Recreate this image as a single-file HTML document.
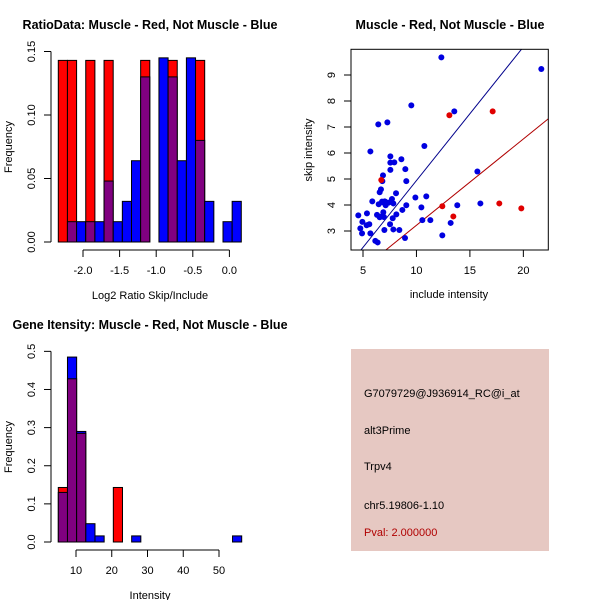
<!DOCTYPE html>
<html><head><meta charset="utf-8"><style>
body{margin:0;background:#fff}
svg{display:block;font-family:"Liberation Sans",sans-serif}
</style></head><body>
<svg id="s" width="600" height="600" viewBox="0 0 600 600">
<rect width="600" height="600" fill="#fff"/>
</svg>
<script>
// ---- Ratio histogram data ----
const ratioStart = -2.3375, ratioWidth = 0.125;
const ratioRed  = [0.143,0.143,0,0.143,0,0.143,0,0,0,0.143,0,0,0.143,0,0,0.143,0,0,0,0];
const ratioBlue = [0,0.016,0.016,0.016,0.016,0.048,0.016,0.032,0.064,0.130,0,0.145,0.130,0.064,0.145,0.080,0.032,0,0.016,0.032];
const ratioXTicks = [-2.0,-1.5,-1.0,-0.5,0.0];
const ratioXLabels = ["-2.0","-1.5","-1.0","-0.5","0.0"];
const ratioYTicks = [0,0.05,0.10,0.15];
const ratioYLabels = ["0.00","0.05","0.10","0.15"];
// ---- Gene intensity histogram data ----
const geneStart = 5.05, geneWidth = 2.565;
const geneRed  = [0.143,0.428,0.285,0,0,0,0.143,0,0,0,0,0,0,0,0,0,0,0,0,0];
const geneBlue = [0.130,0.485,0.290,0.048,0.016,0,0,0,0.016,0,0,0,0,0,0,0,0,0,0,0.016];
const geneXTicks = [10,20,30,40,50];
const geneYTicks = [0,0.1,0.2,0.3,0.4,0.5];
const geneYLabels = ["0.0","0.1","0.2","0.3","0.4","0.5"];
// ---- Scatter data ----
const blueX = [4.56,4.75,4.94,4.91,5.37,5.59,5.34,5.69,5.87,5.69,6.15,6.37,6.43,6.47,6.56,6.62,6.68,6.78,6.81,6.87,6.90,6.93,7.03,7.09,7.12,6.90,7.00,7.28,7.53,7.56,7.56,7.56,7.71,7.78,7.84,7.84,7.93,8.09,8.12,8.40,8.68,8.59,8.96,9.05,9.05,8.93,9.52,9.90,10.46,10.55,10.74,10.92,11.30,12.33,12.42,13.20,13.54,13.82,15.70,15.98,21.68,6.31,6.56,6.96,7.40];
const blueY = [3.60,3.10,3.35,2.91,3.68,3.26,3.22,2.91,4.14,6.06,2.62,2.56,7.10,4.03,4.49,3.55,4.60,4.13,4.92,5.14,3.55,4.09,4.14,4.12,3.99,3.72,3.04,7.18,3.26,5.35,5.63,5.87,4.23,3.49,4.06,3.06,5.64,4.45,3.64,3.04,3.81,5.76,5.38,4.92,3.99,2.73,7.83,4.29,3.91,3.42,6.27,4.33,3.42,9.68,2.83,3.31,7.60,3.99,5.29,4.06,9.23,3.62,3.53,3.54,4.09];
const redX = [13.08,17.13,12.42,13.45,17.75,19.81,6.71];
const redY = [7.45,7.60,3.95,3.56,4.06,3.87,4.96];
const blueLine = [0.514,-0.20]; // slope, intercept
const redLine = [0.332,-0.10];
const scatXTicks = [5,10,15,20];
const scatYTicks = [3,4,5,6,7,8,9];

const NS="http://www.w3.org/2000/svg", svg=document.getElementById('s');
function el(tag,attrs,parent){const e=document.createElementNS(NS,tag);for(const k in attrs)e.setAttribute(k,attrs[k]);(parent||svg).appendChild(e);return e;}
function txt(x,y,s,opts,parent){const t=el('text',Object.assign({x:x,y:y,'font-size':11,'text-anchor':'middle',fill:'#000'},opts||{}),parent);t.textContent=s;return t;}

function hist(name,g,start,w,red,blue,sx,sy){
  for(let i=0;i<red.length;i++){
    const x0=sx(start+i*w), x1=sx(start+(i+1)*w);
    const r=red[i], b=blue[i], mx=Math.max(r,b), mn=Math.min(r,b);
    if(mx<=0) continue;
    const top=el('rect',{x:x0,y:sy(mx),width:x1-x0,height:sy(0)-sy(mx),fill:r>=b?'#ff0000':'#0000ff',stroke:'#000','stroke-width':1},g);
    
    
    if(mn>0){
      const p=el('rect',{x:x0,y:sy(mn),width:x1-x0,height:sy(0)-sy(mn),fill:'#800080',stroke:'#000','stroke-width':1},g);
      
      
    }
  }
}
function xAxis(g,ticks,labels,sx,y){
  el('line',{x1:sx(ticks[0]),x2:sx(ticks[ticks.length-1]),y1:y,y2:y,stroke:'#000'},g);
  ticks.forEach((t,i)=>{el('line',{x1:sx(t),x2:sx(t),y1:y,y2:y+7,stroke:'#000'},g);txt(sx(t),y+24,labels[i],{},g);});
}
function yAxis(g,ticks,labels,sy,x){
  el('line',{x1:x,x2:x,y1:sy(ticks[0]),y2:sy(ticks[ticks.length-1]),stroke:'#000'},g);
  ticks.forEach((t,i)=>{el('line',{x1:x,x2:x-7,y1:sy(t),y2:sy(t),stroke:'#000'},g);txt(x-16,sy(t),labels[i],{transform:'rotate(-90 '+(x-16)+' '+sy(t)+')'},g);});
}

// Panel 1
{
  const g=el('g',{});
  const sx=v=>83+(v+2.0)*73.2, sy=v=>242-v*1270;
  hist('ratio',g,ratioStart,ratioWidth,ratioRed,ratioBlue,sx,sy);
  xAxis(g,ratioXTicks,ratioXLabels,sx,250);
  yAxis(g,ratioYTicks,ratioYLabels,sy,51);
  txt(150,29,'RatioData: Muscle - Red, Not Muscle - Blue',{'font-weight':'bold','font-size':12.5,},g);
  txt(150,299,'Log2 Ratio Skip/Include',{},g);
  txt(12,147,'Frequency',{transform:'rotate(-90 12 147)',},g);
}
// Panel 2
{
  const g=el('g',{});
  const sx=v=>363+(v-5)*10.69, sy=v=>231-(v-3)*26;
  const L=351,R=548.3,T=49.3,B=250;
  const cp=el('clipPath',{id:'cp'},g);el('rect',{x:L,y:T,width:R-L,height:B-T},cp);
  const xmin=3.8,xmax=23.5;
  [[blueLine,'#00008b','blue-fit-line'],[redLine,'#b00000','red-fit-line']].forEach(([ln,c,n])=>{
    const l=el('line',{x1:sx(xmin),y1:sy(ln[0]*xmin+ln[1]),x2:sx(xmax),y2:sy(ln[0]*xmax+ln[1]),stroke:c,'stroke-width':1,'clip-path':'url(#cp)'},g);
    
    
  });
  blueX.forEach((x,i)=>{const c=el('circle',{cx:sx(x),cy:sy(blueY[i]),r:3,fill:'#0000e0'},g);
    
    });
  redX.forEach((x,i)=>{const c=el('circle',{cx:sx(x),cy:sy(redY[i]),r:3,fill:'#e00000'},g);
    
    });
  el('rect',{x:L,y:T,width:R-L,height:B-T,fill:'none',stroke:'#000',},g);
  scatXTicks.forEach(t=>{el('line',{x1:sx(t),x2:sx(t),y1:B,y2:B+7,stroke:'#000'},g);txt(sx(t),B+24,String(t),{},g);});
  scatYTicks.forEach(t=>{el('line',{x1:L,x2:L-7,y1:sy(t),y2:sy(t),stroke:'#000'},g);txt(L-16,sy(t),String(t),{transform:'rotate(-90 '+(L-16)+' '+sy(t)+')'},g);});
  txt(450,29,'Muscle - Red, Not Muscle - Blue',{'font-weight':'bold','font-size':12.5,},g);
  txt(449,298,'include intensity',{},g);
  txt(312,150,'skip intensity',{transform:'rotate(-90 312 150)',},g);
}
// Panel 3
{
  const g=el('g',{});
  const sx=v=>76+(v-10)*3.575, sy=v=>542-v*381.3;
  hist('gene',g,geneStart,geneWidth,geneRed,geneBlue,sx,sy);
  xAxis(g,geneXTicks,geneXTicks.map(String),sx,550);
  yAxis(g,geneYTicks,geneYLabels,sy,51);
  txt(150,329,'Gene Itensity: Muscle - Red, Not Muscle - Blue',{'font-weight':'bold','font-size':12.5,},g);
  txt(150,599,'Intensity',{},g);
  txt(12,447,'Frequency',{transform:'rotate(-90 12 447)',},g);
}
</script>
<svg style="position:absolute;left:0;top:0" width="600" height="600">
<g font-family="Liberation Sans, sans-serif" font-size="11">
<rect x="351" y="349" width="198" height="202" fill="#e6c8c2"/>
<text x="364" y="397">G7079729@J936914_RC@i_at</text>
<text x="364" y="434">alt3Prime</text>
<text x="364" y="470">Trpv4</text>
<text x="364" y="509">chr5.19806-1.10</text>
<text x="364" y="536" fill="#b00000">Pval: 2.000000</text>
</g>
</svg>
</body></html>
